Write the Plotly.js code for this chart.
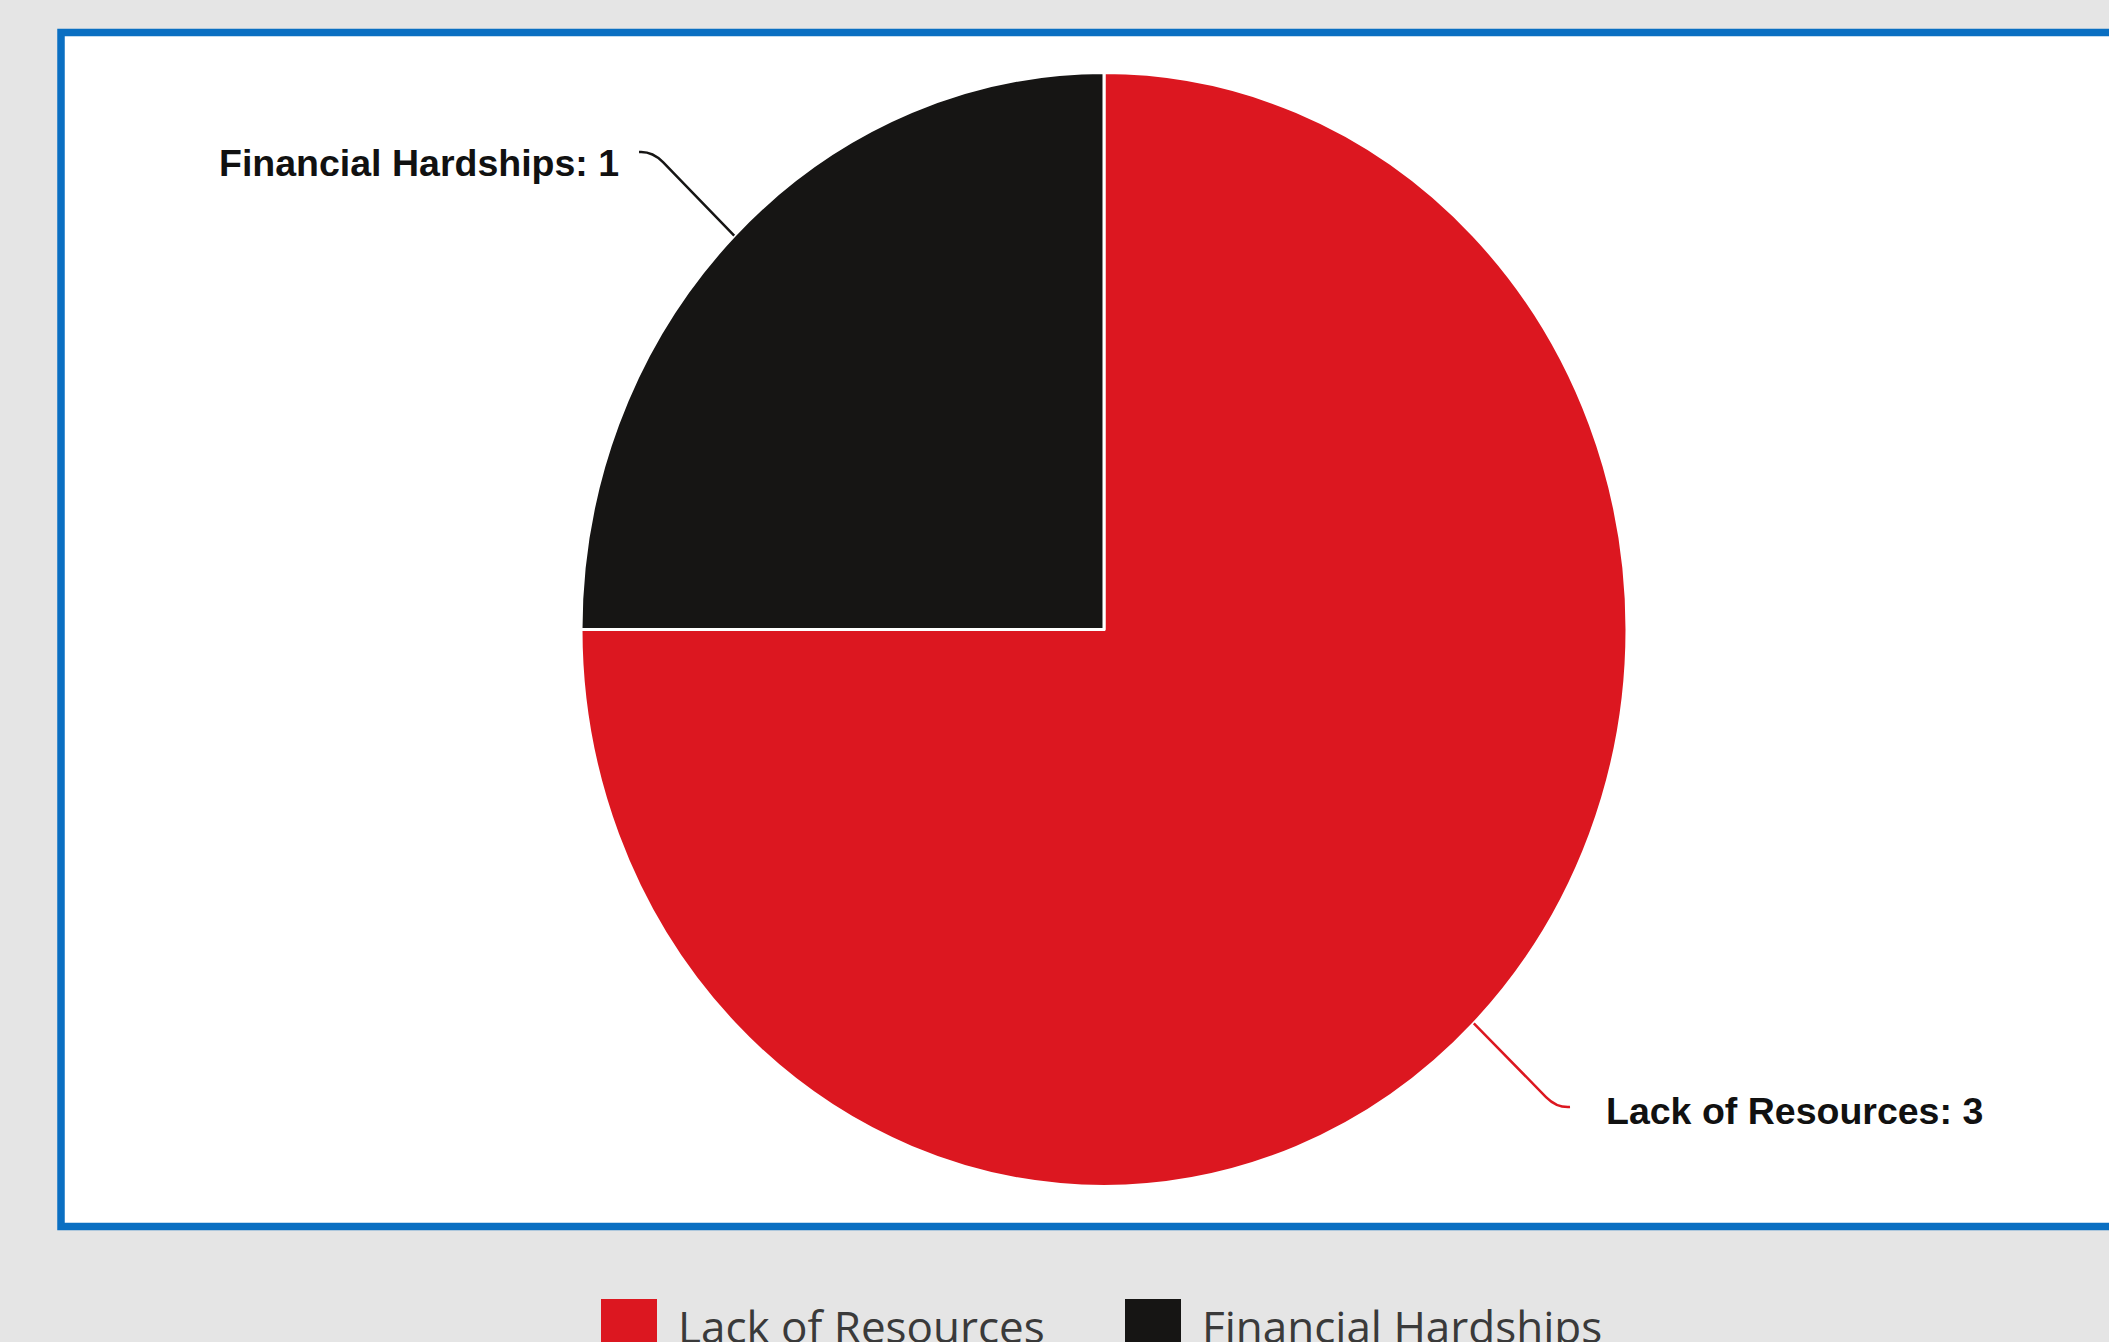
<!DOCTYPE html>
<html>
<head>
<meta charset="utf-8">
<script src="https://cdn.plot.ly/plotly-3.0.1.min.js"></script>
<style>
  html, body { margin: 0; padding: 0; background: #e5e5e5; overflow: hidden; }
  #chart { width: 2109px; height: 1342px; }
</style>
</head>
<body>
<div id="chart"></div>
<script>
// ---- data ----
const categories = ['Lack of Resources', 'Financial Hardships'];
const values = [3, 1];
const sliceColors = ['#DC1720', '#161514'];

// ---- layout constants (pixels) ----
const W = 2109, H = 1342;
const CX = 1104, CY = 629.5, RX = 523, RY = 557;
const px = x => x / W;
const py = y => 1 - y / H;

// label placement per category
const labelEnds = [{x: 1570, y: 1107}, {x: 639, y: 152}];
const labelDy = [4, 11];
const labelGap = [34, 18];

const total = values.reduce((a, b) => a + b, 0);
let cum = 0;
const shapes = [];
const annotations = [];

// card with blue border
shapes.push({
  type: 'rect', xref: 'paper', yref: 'paper', layer: 'below',
  x0: px(61), x1: px(2160), y0: py(32.5), y1: py(1226.5),
  fillcolor: '#ffffff', line: {color: '#0A6FC2', width: 7.5}
});

categories.forEach((cat, i) => {
  const mid = (cum + values[i] / 2) / total * 2 * Math.PI;
  cum += values[i];
  const ex = CX + RX * Math.sin(mid);
  const ey = CY - RY * Math.cos(mid);
  const end = labelEnds[i];
  const sx = Math.sign(end.x - ex), sy = Math.sign(end.y - ey);
  const elb = {x: end.x - sx * 24, y: end.y - sy * 10};
  const ctl = {x: end.x - sx * 13, y: end.y + sy * 1};
  const p = (x, y) => px(x).toFixed(5) + ',' + py(y).toFixed(5);
  shapes.push({
    type: 'path', xref: 'paper', yref: 'paper', layer: 'above',
    path: 'M' + p(ex, ey) + ' L' + p(elb.x, elb.y) + ' Q' + p(ctl.x, ctl.y) + ' ' + p(end.x, end.y),
    line: {color: sliceColors[i], width: 2.5}
  });
  annotations.push({
    xref: 'paper', yref: 'paper',
    x: px(end.x + sx * labelGap[i]), y: py(end.y + labelDy[i]),
    xanchor: sx > 0 ? 'left' : 'right', yanchor: 'middle',
    text: cat + ': ' + values[i], showarrow: false,
    font: {family: 'Liberation Sans, Arial, sans-serif', size: 37.5, weight: 700, color: '#111111'}
  });
});

// custom legend
const legendItems = [{sq: 601, tx: 676}, {sq: 1125, tx: 1200}];
categories.forEach((cat, i) => {
  shapes.push({
    type: 'rect', xref: 'paper', yref: 'paper', layer: 'above',
    x0: px(legendItems[i].sq), x1: px(legendItems[i].sq + 56),
    y0: py(1299), y1: py(1370),
    fillcolor: sliceColors[i], line: {width: 0}
  });
  annotations.push({
    xref: 'paper', yref: 'paper',
    x: px(legendItems[i].tx), y: py(1326),
    xanchor: 'left', yanchor: 'middle',
    text: cat, showarrow: false,
    font: {family: 'Open Sans, sans-serif', size: 44, color: '#3a3a3a'}
  });
});

const trace = {
  type: 'pie',
  labels: categories,
  values: values,
  sort: false,
  direction: 'clockwise',
  rotation: 0,
  marker: {colors: sliceColors, line: {color: '#ffffff', width: 3}},
  textinfo: 'none',
  hoverinfo: 'none',
  showlegend: false,
  domain: {x: [px(CX - RX), px(CX + RX)], y: [py(CY + RX), py(CY - RX)]}
};

const layout = {
  width: W, height: H,
  margin: {l: 0, r: 0, t: 0, b: 0},
  paper_bgcolor: '#e5e5e5',
  showlegend: false,
  shapes: shapes,
  annotations: annotations
};

Plotly.newPlot('chart', [trace], layout, {displayModeBar: false, staticPlot: true}).then(gd => {
  const g = gd.querySelector('.pielayer');
  if (g) {
    const k = RY / RX;
    g.setAttribute('transform', 'translate(0,' + CY + ') scale(1,' + k + ') translate(0,' + (-CY) + ')');
  }
});
</script>
</body>
</html>
